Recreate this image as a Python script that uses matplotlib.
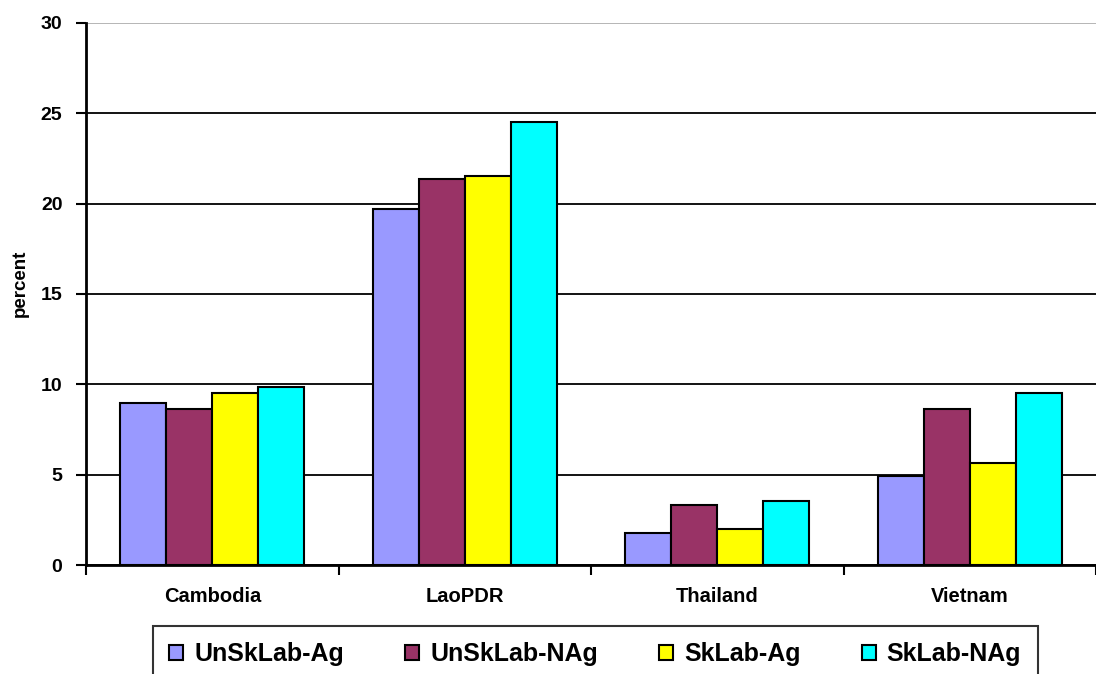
import numpy as np
import matplotlib.pyplot as plt

# labour share by country and skill / sector group
countries = ['Cambodia', 'LaoPDR', 'Thailand', 'Vietnam']
series_names = ['UnSkLab-Ag', 'UnSkLab-NAg', 'SkLab-Ag', 'SkLab-NAg']
unsk_ag = [8.98, 19.70, 1.78, 4.95]
unsk_nag = [8.65, 21.35, 3.34, 8.62]
sk_ag = [9.54, 21.55, 1.98, 5.63]
sk_nag = [9.85, 24.53, 3.54, 9.50]
y_ticks = [0, 5, 10, 15, 20, 25, 30]

colors = ['#9999FF', '#993366', '#FFFF00', '#00FFFF']

plt.rcParams['font.family'] = ['Liberation Sans', 'DejaVu Sans']
plt.rcParams['font.weight'] = 'bold'

fig = plt.figure(figsize=(10.96, 6.74), dpi=100)
ax = fig.add_axes([0.0785, 0.1617, 0.9215, 0.8042])

x = np.arange(len(countries))
width = 0.182
values = [unsk_ag, unsk_nag, sk_ag, sk_nag]
for i, (vals, name, col) in enumerate(zip(values, series_names, colors)):
    ax.bar(x + (i - 1.5) * width, vals, width, color=col, edgecolor='black',
           linewidth=1.5, label=name, zorder=3)

ax.set_ylim(0, 30)
ax.set_xlim(-0.5, 3.46)
ax.set_yticks(y_ticks)
ax.set_yticklabels([str(v) for v in y_ticks], fontsize=14, fontweight='bold')
ax.yaxis.grid(True, color='black', linewidth=1.3, zorder=0)
ax.set_axisbelow(True)
# the top gridline is drawn lighter
ax.get_ygridlines()[-1].set_color('#b0b0b0')

# category labels sit between the boundary ticks
ax.set_xticks(np.arange(-0.5, 4.0, 1.0))
ax.set_xticklabels([])
ax.set_xticks(x, minor=True)
ax.set_xticklabels(countries, minor=True, fontsize=14.5, fontweight='bold')
ax.tick_params(axis='x', which='minor', length=0, pad=16)
ax.tick_params(axis='x', which='major', length=7, width=1.5, direction='out')
ax.tick_params(axis='y', length=7, width=1.5, direction='out', pad=10)

for side in ['top', 'right']:
    ax.spines[side].set_visible(False)
for side in ['left', 'bottom']:
    ax.spines[side].set_linewidth(2)

ax.set_ylabel('percent', fontsize=13.5, fontweight='bold')
ax.yaxis.set_label_coords(-0.057, 0.52)

leg = fig.legend(loc='upper center', bbox_to_anchor=(0.543, 0.0712),
                 ncol=4, fontsize=18, frameon=True, fancybox=False,
                 handlelength=0.55, handleheight=0.55, handletextpad=0.45,
                 columnspacing=2.45, borderpad=0.65, borderaxespad=0)
leg.get_frame().set_edgecolor('black')
leg.get_frame().set_linewidth(1.5)
for t in leg.get_texts():
    t.set_fontweight('bold')
for h in leg.legend_handles:
    h.set_linewidth(1.5)

fig.savefig('out.png', dpi=100)
